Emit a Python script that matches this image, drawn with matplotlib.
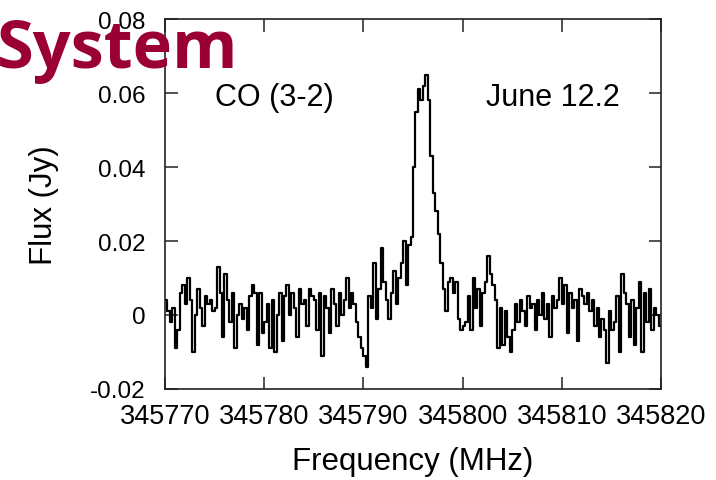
import numpy as np
import matplotlib
matplotlib.use('Agg')
from matplotlib import pyplot

# 
# spectrum, 0.25 MHz channels from 345770 to 345820 MHz
# 
chan_width = 0.25
flux_jy = [
    # 345770 - 345775
    0.004, 0.001, -0.002, 0.002, -0.009, -0.004, 0.006, 0.008, 0.003, 0.010,
    0.004, -0.010, 0.000, 0.007, 0.002, -0.003, 0.005, 0.003, 0.004, 0.001,
    # 345775 - 345780
    0.002, 0.013, 0.006, -0.006, 0.011, 0.004, -0.002, 0.006, -0.009, 0.000,
    0.003, -0.001, 0.002, -0.004, 0.005, 0.008, 0.006, -0.008, 0.006, -0.005,
    # 345780 - 345785
    -0.002, 0.003, -0.009, 0.004, -0.010, 0.000, 0.006, -0.007, 0.005, 0.008,
    0.000, 0.006, 0.002, -0.006, 0.007, 0.003, 0.004, -0.003, 0.007, 0.005,
    # 345785 - 345790
    0.004, -0.004, 0.006, -0.011, 0.005, 0.002, -0.005, 0.007, 0.003, -0.003,
    0.006, 0.000, 0.004, 0.010, 0.002, 0.006, 0.003, -0.002, -0.006, -0.009,
    # 345790 - 345795
    -0.011, -0.014, 0.005, 0.002, 0.014, -0.001, 0.007, 0.018, 0.009, 0.004,
    -0.001, 0.006, 0.012, 0.003, 0.010, 0.014, 0.020, 0.008, 0.019, 0.021,
    # 345795 - 345800
    0.040, 0.055, 0.061, 0.058, 0.062, 0.065, 0.058, 0.043, 0.033, 0.028,
    0.022, 0.014, 0.007, 0.001, 0.009, 0.010, 0.006, 0.009, -0.001, -0.004,
    # 345800 - 345805
    -0.003, -0.002, 0.005, -0.004, 0.010, 0.002, 0.007, -0.003, 0.006, 0.009,
    0.016, 0.011, 0.008, 0.004, -0.009, 0.002, -0.008, 0.001, -0.006, -0.010,
    # 345805 - 345810
    -0.004, 0.003, -0.002, 0.004, 0.001, -0.003, 0.005, 0.002, 0.003, -0.004,
    0.004, 0.000, 0.006, -0.001, 0.003, -0.006, 0.005, 0.002, 0.004, 0.010,
    # 345810 - 345815
    0.003, 0.008, -0.005, 0.006, 0.002, 0.004, -0.007, 0.007, 0.005, 0.003,
    0.006, 0.001, 0.004, -0.003, 0.002, -0.006, -0.001, -0.004, -0.013, 0.001,
    # 345815 - 345820
    -0.004, -0.002, 0.005, -0.010, 0.011, 0.006, 0.003, -0.006, 0.004, -0.008,
    0.002, 0.009, -0.010, 0.006, -0.002, 0.007, -0.004, 0.002, 0.000, -0.003,
]
freq_start = 345770.0
xticks = [345770, 345780, 345790, 345800, 345810, 345820]
yticks = [-0.02, 0, 0.02, 0.04, 0.06, 0.08]
ytick_labels = ['-0.02', '0', '0.02', '0.04', '0.06', '0.08']

flux_jy = np.array(flux_jy)
freq_mhz = freq_start + chan_width*(np.arange(len(flux_jy))+0.5)

# 
# plot
# 
pyplot.rcParams['font.family'] = ['Liberation Sans', 'DejaVu Sans']
fig = pyplot.figure(figsize=(7.16,4.81), dpi=100)
ax = fig.add_axes([0.2304, 0.1892, 0.6928, 0.7692])
ax.step(freq_mhz, flux_jy, where='mid', color='black', lw=1.6)
ax.set_xlim([345770, 345820])
ax.set_ylim([-0.02, 0.08])
ax.set_xticks(xticks)
ax.set_xticklabels([str(t) for t in xticks])
ax.set_yticks(yticks)
ax.set_yticklabels(ytick_labels)
ax.tick_params(direction='in', length=9, width=1.1, top=True, right=True, color='#222222')
ax.tick_params(axis='x', labelsize=19.5, pad=10)
ax.tick_params(axis='y', labelsize=17.5, pad=14)
for sp in ax.spines.values():
    sp.set_linewidth(1.2)
    sp.set_color('#222222')
ax.set_xlabel('Frequency (MHz)', fontsize=22.5, labelpad=12)
ax.set_ylabel('Flux (Jy)', fontsize=22.5, labelpad=22)

ax.text(0.10, 0.79, 'CO (3-2)', transform=ax.transAxes, fontsize=22, ha='left', va='center')
ax.text(0.648, 0.79, 'June 12.2', transform=ax.transAxes, fontsize=22, ha='left', va='center')

# slide title fragment overlapping the chart
fig.text(-0.004, 0.858, 'System', fontsize=48, fontweight='bold', color='#9b0035',
         family=['Open Sans', 'DejaVu Sans'], ha='left', va='baseline')

pyplot.savefig('out.png', dpi=100)
print('Output to "out.png"!')
